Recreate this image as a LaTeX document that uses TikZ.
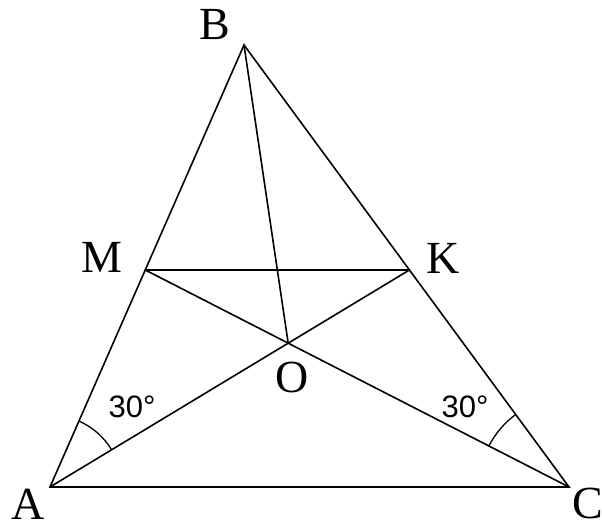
\documentclass[tikz,border=0pt]{standalone}
\usepackage{fontspec}
\setmainfont{Liberation Serif}
\newfontfamily\anglefont{Liberation Sans}
\usetikzlibrary{angles,calc}
\begin{document}
\begin{tikzpicture}[x=1pt,y=1pt,
  seg/.style={line width=1.6pt,line cap=round},
  vlabel/.style={font=\fontsize{46}{46}\selectfont,inner sep=0pt},
  alabel/.style={font=\anglefont\fontsize{31}{31}\selectfont,inner sep=0pt},
  anglearc/.style={draw,line width=1.3pt}]
\useasboundingbox (0,0) rectangle (602,524);
\fill[white] (0,0) rectangle (602,524);
\coordinate (A) at (50,37);
\coordinate (B) at (244,479);
\coordinate (C) at (569,37);
\coordinate (M) at ($(A)!0.491!(B)$);
\coordinate (K) at ($(B)!0.509!(C)$);
\coordinate (O) at (intersection of A--K and C--M);
\draw[seg] (A) -- (B) -- (C) -- cycle;
\draw[seg] (M) -- (K);
\draw[seg] (A) -- (K);
\draw[seg] (C) -- (M);
\draw[seg] (B) -- (O);
\pic[anglearc,angle radius=72pt] {angle=K--A--B};
\pic[anglearc,angle radius=90pt] {angle=B--C--M};
\node[vlabel] (lA) at (28,20) {A};
\node[vlabel] (lB) at (215,499) {B};
\node[vlabel] (lC) at (588,21) {C};
\node[vlabel] (lM) at (102,267) {M};
\node[vlabel] (lK) at (443,266) {K};
\node[vlabel] (lO) at (292,147) {O};
\node[alabel] (a1) at (132,117) {30°};
\node[alabel] (a2) at (465,117) {30°};
\end{tikzpicture}
\end{document}
